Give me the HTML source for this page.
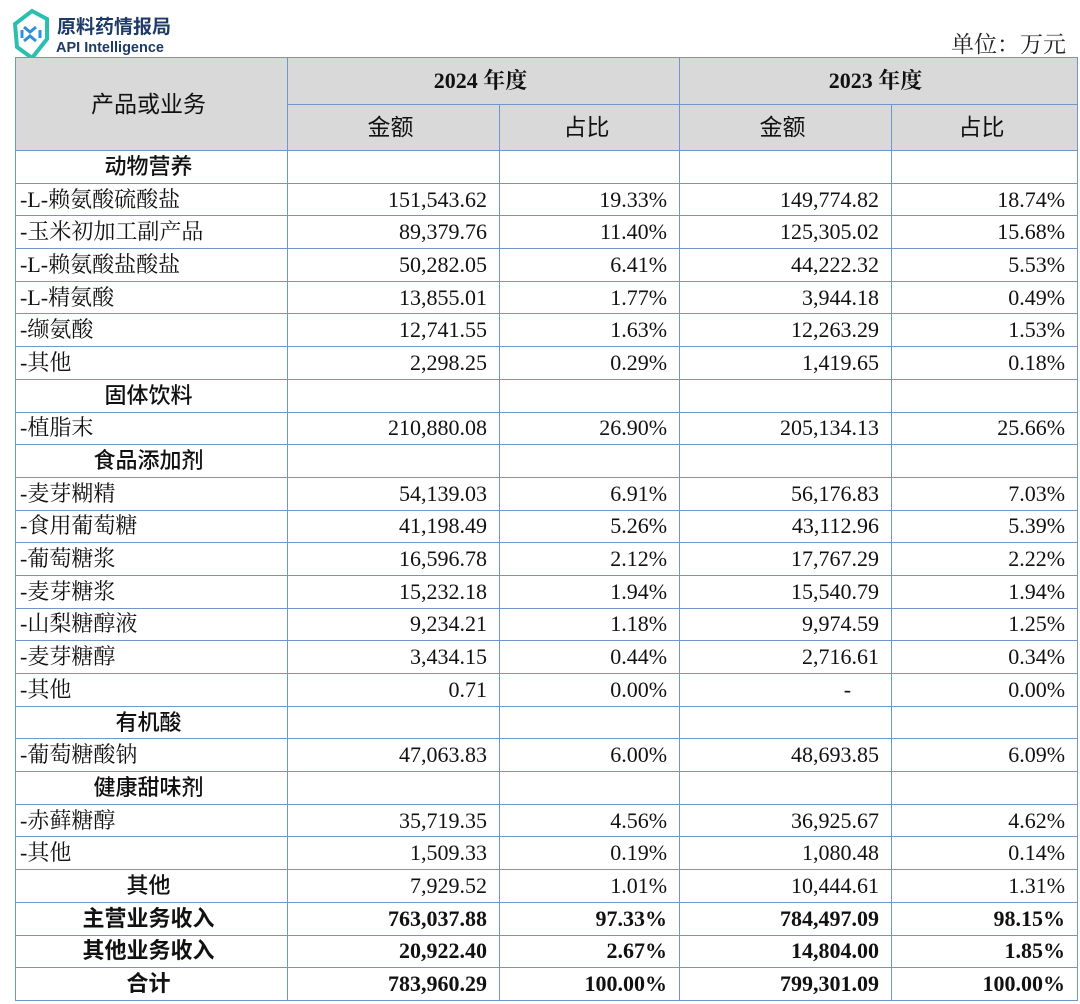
<!DOCTYPE html>
<html><head><meta charset="utf-8"><style>
body{margin:0;background:#fff;width:1080px;height:1004px;position:relative;overflow:hidden}
.logo{position:absolute;left:12px;top:8px}
.unit{position:absolute;right:14px;top:26px;font:23px "Liberation Serif","Noto Serif CJK SC",serif;color:#222}
table{position:absolute;left:15px;top:57px;border-collapse:collapse;table-layout:fixed;width:1062px}
td{border:1.5px solid #7295cc;height:31.7px;padding:0 12px 0 6px;font:22px "Liberation Serif","Noto Serif CJK SC",serif;color:#111;text-align:right;white-space:nowrap;overflow:hidden;line-height:1}
td.l{text-align:left;padding-left:4px}
td.c{text-align:center;font-family:"Liberation Sans","Noto Sans CJK SC",sans-serif;font-weight:500}
.h td{background:#d9d9d9;text-align:center;height:45.5px}
.h td.y{font-family:"Liberation Serif","Noto Serif CJK SC",serif;font-weight:bold}
.h td.s{font-family:"Liberation Sans","Noto Sans CJK SC",sans-serif;font-size:23px}
tr.b td{font-weight:bold}
</style></head><body>
<div class="logo"><svg width="175" height="50">
<polygon points="20,3 35,11 35,31 20,50 5,39 3,16" fill="none" stroke="#2bbfb0" stroke-width="4"/>
<path d="M12,19 l6,5 l6,-5 M12,33 l6,-5 l6,5 M10,22 v8 M28,22 v8" stroke="#2e8fe0" stroke-width="3" fill="none"/>
<text x="45" y="25" font-family="Noto Sans CJK SC,sans-serif" font-size="19" font-weight="bold" fill="#1e3a66">原料药情报局</text>
<text x="44" y="44" font-family="Liberation Sans,sans-serif" font-size="14.5" font-weight="bold" fill="#1e3a66">API Intelligence</text>
</svg></div>
<div class="unit">单位：万元</div>
<table>
<colgroup><col style="width:272px"><col style="width:212px"><col style="width:180px"><col style="width:212px"><col style="width:186px"></colgroup>
<tr class="h"><td rowspan="2" class="s">产品或业务</td><td colspan="2" class="y">2024 年度</td><td colspan="2" class="y">2023 年度</td></tr>
<tr class="h"><td class="s">金额</td><td class="s">占比</td><td class="s">金额</td><td class="s">占比</td></tr>
<tr><td class="c">动物营养</td><td></td><td></td><td></td><td></td></tr>
<tr><td class="l">-L-赖氨酸硫酸盐</td><td>151,543.62</td><td>19.33%</td><td>149,774.82</td><td>18.74%</td></tr>
<tr><td class="l">-玉米初加工副产品</td><td>89,379.76</td><td>11.40%</td><td>125,305.02</td><td>15.68%</td></tr>
<tr><td class="l">-L-赖氨酸盐酸盐</td><td>50,282.05</td><td>6.41%</td><td>44,222.32</td><td>5.53%</td></tr>
<tr><td class="l">-L-精氨酸</td><td>13,855.01</td><td>1.77%</td><td>3,944.18</td><td>0.49%</td></tr>
<tr><td class="l">-缬氨酸</td><td>12,741.55</td><td>1.63%</td><td>12,263.29</td><td>1.53%</td></tr>
<tr><td class="l">-其他</td><td>2,298.25</td><td>0.29%</td><td>1,419.65</td><td>0.18%</td></tr>
<tr><td class="c">固体饮料</td><td></td><td></td><td></td><td></td></tr>
<tr><td class="l">-植脂末</td><td>210,880.08</td><td>26.90%</td><td>205,134.13</td><td>25.66%</td></tr>
<tr><td class="c">食品添加剂</td><td></td><td></td><td></td><td></td></tr>
<tr><td class="l">-麦芽糊精</td><td>54,139.03</td><td>6.91%</td><td>56,176.83</td><td>7.03%</td></tr>
<tr><td class="l">-食用葡萄糖</td><td>41,198.49</td><td>5.26%</td><td>43,112.96</td><td>5.39%</td></tr>
<tr><td class="l">-葡萄糖浆</td><td>16,596.78</td><td>2.12%</td><td>17,767.29</td><td>2.22%</td></tr>
<tr><td class="l">-麦芽糖浆</td><td>15,232.18</td><td>1.94%</td><td>15,540.79</td><td>1.94%</td></tr>
<tr><td class="l">-山梨糖醇液</td><td>9,234.21</td><td>1.18%</td><td>9,974.59</td><td>1.25%</td></tr>
<tr><td class="l">-麦芽糖醇</td><td>3,434.15</td><td>0.44%</td><td>2,716.61</td><td>0.34%</td></tr>
<tr><td class="l">-其他</td><td>0.71</td><td>0.00%</td><td style="padding-right:40px">-</td><td>0.00%</td></tr>
<tr><td class="c">有机酸</td><td></td><td></td><td></td><td></td></tr>
<tr><td class="l">-葡萄糖酸钠</td><td>47,063.83</td><td>6.00%</td><td>48,693.85</td><td>6.09%</td></tr>
<tr><td class="c">健康甜味剂</td><td></td><td></td><td></td><td></td></tr>
<tr><td class="l">-赤藓糖醇</td><td>35,719.35</td><td>4.56%</td><td>36,925.67</td><td>4.62%</td></tr>
<tr><td class="l">-其他</td><td>1,509.33</td><td>0.19%</td><td>1,080.48</td><td>0.14%</td></tr>
<tr><td class="c">其他</td><td>7,929.52</td><td>1.01%</td><td>10,444.61</td><td>1.31%</td></tr>
<tr class="b"><td class="c">主营业务收入</td><td>763,037.88</td><td>97.33%</td><td>784,497.09</td><td>98.15%</td></tr>
<tr class="b"><td class="c">其他业务收入</td><td>20,922.40</td><td>2.67%</td><td>14,804.00</td><td>1.85%</td></tr>
<tr class="b"><td class="c">合计</td><td>783,960.29</td><td>100.00%</td><td>799,301.09</td><td>100.00%</td></tr>
</table>
</body></html>
